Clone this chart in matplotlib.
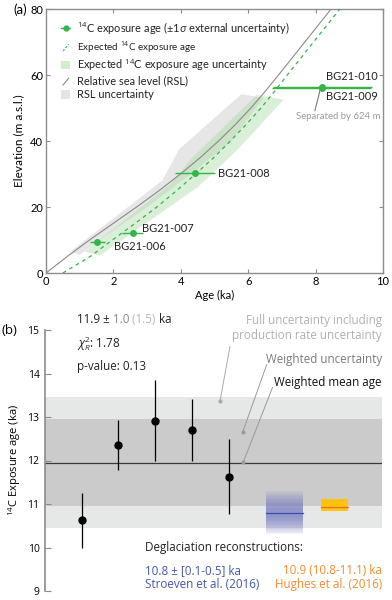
import matplotlib
matplotlib.use("Agg")
import matplotlib.pyplot as plt
import numpy as np
from matplotlib.lines import Line2D
from matplotlib.patches import Patch, Rectangle
from matplotlib.legend_handler import HandlerBase

plt.rcParams['font.family'] = ['Lato', 'DejaVu Sans']
plt.rcParams['mathtext.fontset'] = 'custom'
plt.rcParams['mathtext.rm'] = 'Open Sans'
plt.rcParams['mathtext.it'] = 'Open Sans:italic'
plt.rcParams['mathtext.bf'] = 'Open Sans:bold'

# ---------------- Panel (a) data ----------------
curve_elev = [0, 5, 10, 15, 20, 25, 30, 35, 40, 45, 50, 55, 60, 65, 70, 75, 80]
rsl_age = [0, 0.63, 1.29, 1.99, 2.69, 3.36, 3.99, 4.58, 5.12, 5.62, 6.08, 6.50,
           6.90, 7.29, 7.68, 8.07, 8.46]
exp_age = [0.5, 1.31, 1.97, 2.64, 3.29, 3.88, 4.44, 4.98, 5.47, 5.94, 6.38,
           6.78, 7.16, 7.55, 7.94, 8.33, 8.72]

rsl_band_age = [0.72, 1.0, 1.6, 3.0, 4.3, 5.5, 6.45, 5.8, 3.95, 3.45]
rsl_band_elev = [6.5, 5.5, 10, 20, 30, 40, 53, 54.2, 37.5, 28]

exp_band_age = [1.15, 3.7, 4.3, 6.25, 7.05, 5.65, 4.5, 1.6]
exp_band_elev = [6.5, 27, 34.5, 54, 52.5, 37, 26, 5.3]

samples = ['BG21-006', 'BG21-007', 'BG21-008', 'BG21-009', 'BG21-010']
sample_age = [1.52, 2.57, 4.42, 8.18, 8.2]
sample_err = [0.22, 0.32, 0.59, 1.46, 1.46]
sample_elev = [9.3, 12.0, 30.2, 56.2, 56.3]

# ---------------- Panel (b) data ----------------
pos_b = [1, 2, 3, 4, 5]
ages_b = [10.63, 12.36, 12.91, 12.70, 11.63]
errs_b = [0.63, 0.58, 0.93, 0.72, 0.87]
wmean = 11.95
w_unc = 1.0
full_unc = 1.5
stroeven_mean = 10.8
stroeven_inner = 0.1
stroeven_outer = 0.5
hughes_mean = 10.94
hughes_lo = 10.84
hughes_hi = 11.11

green = '#33b54a'
spine_gray = '#8c8c8c'

fig = plt.figure(figsize=(3.92, 6.0), dpi=100)
axa = fig.add_axes([46/392, 1-273/600, 337/392, 264/600])
axb = fig.add_axes([45/392, 1-591/600, 337/392, 261/600])

# ---- Panel (a) ----
axa.fill(rsl_band_age, rsl_band_elev, color='#e6e6e6', lw=0, zorder=1)
axa.fill(exp_band_age, exp_band_elev, color='#a6dba0', alpha=0.42, lw=0,
         zorder=2)
axa.plot(rsl_age, curve_elev, color='#8a8a8a', lw=0.8, zorder=3)
axa.plot(exp_age, curve_elev, color=green, lw=0.9, ls=(0, (3, 3)), zorder=3)
axa.errorbar(sample_age, sample_elev, xerr=sample_err, fmt='o', color=green,
             ms=4, elinewidth=1.0, capsize=0, zorder=5)

axa.set_xlim(0, 10)
axa.set_ylim(0, 80)
axa.set_xticks([0, 2, 4, 6, 8, 10])
axa.set_yticks([0, 20, 40, 60, 80])
axa.tick_params(direction='in', length=3, width=0.8, color=spine_gray,
                top=True, right=True, labelsize=8, pad=2)
for s in axa.spines.values():
    s.set_color(spine_gray)
    s.set_linewidth(1.0)
axa.set_xlabel('Age (ka)', fontsize=8, labelpad=2)
axa.set_ylabel('Elevation (m a.s.l.)', fontsize=8.5, labelpad=4)

lab_kw = dict(fontsize=8, color='#222222')
axa.text(5.1, 30.2, 'BG21-008', va='center', ha='left', **lab_kw)
axa.text(2.86, 13.4, 'BG21-007', va='center', ha='left', **lab_kw)
axa.text(2.02, 7.9, 'BG21-006', va='center', ha='left', **lab_kw)
axa.text(8.3, 59.5, 'BG21-010', va='center', ha='left', **lab_kw)
axa.text(8.3, 53.6, 'BG21-009', va='center', ha='left', **lab_kw)
axa.text(7.42, 47.3, 'Separated by 624 m', fontsize=6.9, color='#9a9a9a',
         ha='left', va='center')
axa.plot([8.13, 7.98], [55.3, 49.2], color='#7a7a7a', lw=0.8, zorder=6)


class DiagHandler(HandlerBase):
    def __init__(self, color, ls):
        super().__init__()
        self.color = color
        self.ls = ls

    def create_artists(self, legend, orig_handle, xdescent, ydescent, width,
                       height, fontsize, trans):
        x0, y0 = -xdescent, -ydescent
        l = Line2D([x0 + width*0.2, x0 + width*0.8],
                   [y0 + height*0.0, y0 + height*0.8],
                   color=self.color, lw=0.8, ls=self.ls, transform=trans)
        return [l]


h1 = Line2D([], [], color=green, marker='o', ms=3.5, lw=1.0)
h2 = Line2D([], [], color=green)
h3 = Patch(facecolor='#d2edcd', edgecolor='none')
h4 = Line2D([], [], color='gray')
h5 = Patch(facecolor='#e3e4e4', edgecolor='none')
leg = axa.legend([h1, h2, h3, h4, h5],
                 ['$^{14}$C exposure age ($\\pm$1$\\sigma$ external uncertainty)',
                  'Expected $^{14}$C exposure age',
                  'Expected $^{14}$C exposure age uncertainty',
                  'Relative sea level (RSL)',
                  'RSL uncertainty'],
                 handler_map={h2: DiagHandler(green, (0, (2, 1.5))),
                              h4: DiagHandler('#8a8a8a', '-')},
                 loc='upper left', bbox_to_anchor=(0.045, 0.958), frameon=False,
                 fontsize=7.9, handlelength=0.85, handleheight=0.8,
                 handletextpad=0.55, labelspacing=0.24, borderaxespad=0,
                 borderpad=0)
leg.get_texts()[1].set_fontsize(7.1)
for t in leg.get_texts():
    t.set_color('#222222')

fig.text(13/392, 1-10/600, '(a)', fontsize=9.5, va='center', ha='left')
fig.text(2/392, 1-331/600, '(b)', fontsize=9.5, va='center', ha='left',
         family='Open Sans')

# ---- Panel (b) ----
fb = 'Open Sans'
xmax = 337/36.7
axb.set_xlim(0, xmax)
axb.set_ylim(9, 15)
axb.axhspan(wmean - full_unc, wmean + full_unc, color='#e6e7e7', lw=0, zorder=0)
axb.axhspan(wmean - w_unc, wmean + w_unc, color='#cbcbcb', lw=0, zorder=0.5)
axb.axhline(wmean, color='#3a3a3a', lw=0.9, zorder=1)

axb.errorbar(pos_b, ages_b, yerr=errs_b, fmt='o', color='black', ms=5,
             elinewidth=0.9, capsize=0, zorder=4)

# Stroeven gradient box
sx0, sx1 = 6.02, 7.03
nlay = 14
for d in np.linspace(stroeven_outer, stroeven_inner, nlay):
    axb.add_patch(Rectangle((sx0, stroeven_mean - d), sx1 - sx0, 2*d,
                            facecolor='#6a6fc0', edgecolor='none', alpha=0.07,
                            zorder=2))
axb.plot([sx0, sx1], [stroeven_mean, stroeven_mean], color='#3a4fb0', lw=0.9,
         zorder=3)
# Hughes box
hx0, hx1 = 7.52, 8.26
axb.add_patch(Rectangle((hx0, hughes_lo), hx1 - hx0, hughes_hi - hughes_lo,
                        facecolor='#ffc20e', edgecolor='none', zorder=2))
axb.plot([hx0, hx1], [hughes_mean, hughes_mean], color='#f26b21', lw=0.9,
         zorder=3)

axb.set_yticks([9, 10, 11, 12, 13, 14, 15])
axb.set_xticks([])
for k in ['top', 'right', 'bottom']:
    axb.spines[k].set_visible(False)
axb.spines['left'].set_color(spine_gray)
axb.spines['left'].set_linewidth(1.2)
axb.tick_params(axis='y', direction='in', length=4, width=0.8,
                color=spine_gray, labelsize=7.5, pad=4)
for t in axb.get_yticklabels():
    t.set_family(fb)
axb.set_ylabel('$^{14}$C Exposure age (ka)', fontsize=8, family=fb,
               labelpad=3)

# Stats text
tx = 0.87
fs_s = 8.4
t1 = axb.text(tx, 15.23, '11.9 \u00b1 ', fontsize=fs_s, family=fb,
              va='center', ha='left', color='#222222')
t2 = axb.annotate('1.0 ', xy=(1, 0), xycoords=t1, fontsize=fs_s, family=fb,
                  va='bottom', ha='left', color='#8a8a8a')
t3 = axb.annotate('(1.5) ', xy=(1, 0), xycoords=t2, fontsize=fs_s, family=fb,
                  va='bottom', ha='left', color='#b5b5b5')
t4 = axb.annotate('ka', xy=(1, 0), xycoords=t3, fontsize=fs_s, family=fb,
                  va='bottom', ha='left', color='#222222')
axb.text(tx, 14.68, '$\\chi^2_R$: 1.78', fontsize=fs_s, family=fb,
         va='center', ha='left', color='#222222')
axb.text(tx, 14.15, 'p-value: 0.13', fontsize=fs_s, family=fb, va='center',
         ha='left', color='#222222')

# annotations
fs_a = 8.4
axb.text(xmax, 15.05, 'Full uncertainty including\nproduction rate uncertainty',
         fontsize=fs_a, family=fb, color='#b0b0b0', ha='right', va='center',
         linespacing=1.15)
axb.plot([5.04, 4.77], [14.62, 13.37], color='#a8a8a8', lw=0.7, zorder=5)
axb.plot([4.77], [13.37], 'o', color='#a8a8a8', ms=2, zorder=5)
axb.text(xmax, 14.33, 'Weighted uncertainty', fontsize=fs_a, family=fb,
         color='#7a7a7a', ha='right', va='center')
axb.plot([6.04, 5.39], [14.2, 12.66], color='#9a9a9a', lw=0.7, zorder=5)
axb.plot([5.39], [12.66], 'o', color='#9a9a9a', ms=2, zorder=5)
axb.text(xmax, 13.80, 'Weighted mean age', fontsize=fs_a, family=fb,
         color='#111111', ha='right', va='center')
axb.plot([6.20, 5.40], [13.68, 11.96], color='#9a9a9a', lw=0.7, zorder=5)
axb.plot([5.40], [11.96], 'o', color='#9a9a9a', ms=2, zorder=5)

axb.text(2.73, 10.0, 'Deglaciation reconstructions:', fontsize=fs_a,
         family=fb, color='#222222', va='center', ha='left')
blue_t = '#4456b3'
orange_t = '#f58a2e'
axb.text(2.73, 9.47, '10.8 \u00b1 [0.1-0.5] ka', fontsize=fs_a, family=fb,
         color=blue_t, va='center', ha='left')
axb.text(2.73, 9.14, 'Stroeven et al. (2016)', fontsize=fs_a, family=fb,
         color=blue_t, va='center', ha='left')
axb.text(xmax, 9.47, '10.9 (10.8-11.1) ka', fontsize=fs_a, family=fb,
         color=orange_t, va='center', ha='right')
axb.text(xmax, 9.14, 'Hughes et al. (2016)', fontsize=fs_a, family=fb,
         color=orange_t, va='center', ha='right')

fig.savefig('out.png', dpi=100)
